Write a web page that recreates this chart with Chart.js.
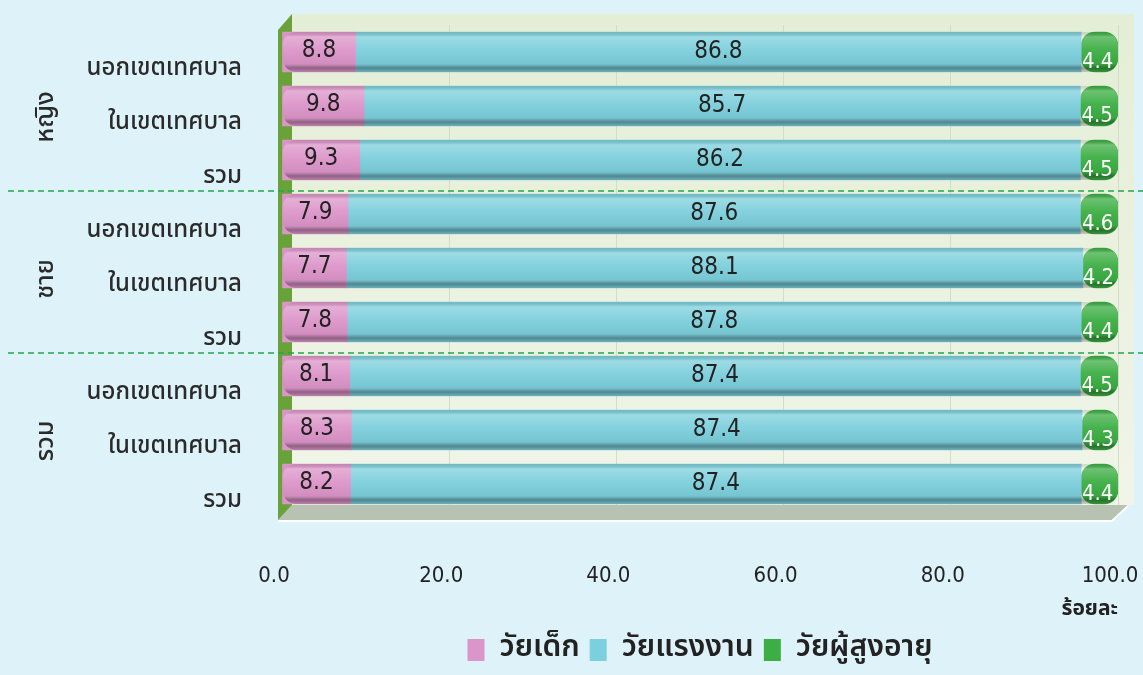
<!DOCTYPE html>
<html>
<head>
<meta charset="utf-8">
<script src="https://cdn.jsdelivr.net/npm/chart.js@4/dist/chart.umd.min.js"></script>
<style>
  html, body { margin: 0; padding: 0; background: #def2fa; }
  canvas { display: block; }
</style>
</head>
<body>
<canvas id="ageChart" width="1143" height="675"></canvas>
<script>
// categories (top to bottom) and groups
const categories = ['นอกเขตเทศบาล', 'ในเขตเทศบาล', 'รวม', 'นอกเขตเทศบาล', 'ในเขตเทศบาล', 'รวม', 'นอกเขตเทศบาล', 'ในเขตเทศบาล', 'รวม'];
const groups = ['หญิง', 'ชาย', 'รวม'];
const seriesNames = ['วัยเด็ก', 'วัยแรงงาน', 'วัยผู้สูงอายุ'];

// percent values
const child = [8.8, 9.8, 9.3, 7.9, 7.7, 7.8, 8.1, 8.3, 8.2];
const working = [86.8, 85.7, 86.2, 87.6, 88.1, 87.8, 87.4, 87.4, 87.4];
const elderly = [4.4, 4.5, 4.5, 4.6, 4.2, 4.4, 4.5, 4.3, 4.4];

const xTicks = [0, 20, 40, 60, 80, 100];

const thaiFont = "'Noto Sans Thai', 'Noto Sans', 'DejaVu Sans', sans-serif";
const numFont = "'DejaVu Sans Condensed', 'Liberation Sans', sans-serif";

// background, back wall, floor and left wall
const decor = {
    id: 'decor',
    beforeDraw(chart) {
        const { ctx, chartArea: a } = chart;
        ctx.save();
        ctx.fillStyle = '#def2fa';
        ctx.fillRect(0, 0, chart.width, chart.height);
        let g = ctx.createLinearGradient(0, 14, 0, 505);
        g.addColorStop(0, '#e4eed6');
        g.addColorStop(1, '#f0f5e8');
        ctx.fillStyle = g;
        ctx.fillRect(a.left + 8, 14, a.right - a.left + 8, 505 - 14);
        ctx.restore();
    },
    beforeDatasetsDraw(chart) {
        const { ctx, chartArea: a } = chart;
        ctx.save();
        // floor
        ctx.fillStyle = '#b8c2b2';
        ctx.beginPath();
        ctx.moveTo(a.left - 4, 520);
        ctx.lineTo(a.right - 6, 520);
        ctx.lineTo(a.right + 10, 505);
        ctx.lineTo(a.left + 10, 505);
        ctx.closePath();
        ctx.fill();
        ctx.strokeStyle = '#ffffff';
        ctx.lineWidth = 2;
        ctx.beginPath();
        ctx.moveTo(a.left - 4, 521);
        ctx.lineTo(a.right - 6, 521);
        ctx.lineTo(a.right + 10, 506);
        ctx.stroke();
        // left wall
        ctx.fillStyle = '#6aa23a';
        ctx.beginPath();
        ctx.moveTo(a.left - 4, 520);
        ctx.lineTo(a.left - 4, 30);
        ctx.lineTo(a.left + 10, 14);
        ctx.lineTo(a.left + 10, 505);
        ctx.closePath();
        ctx.fill();
        ctx.restore();
    },
    afterDatasetsDraw(chart) {
        const { ctx } = chart;
        ctx.save();
        // cylinder shading on each bar
        chart.data.datasets.forEach((ds, di) => {
            const meta = chart.getDatasetMeta(di);
            meta.data.forEach((bar) => {
                const p = bar.getProps(['x', 'y', 'base', 'height'], true);
                const x0 = Math.min(p.x, p.base), x1 = Math.max(p.x, p.base);
                const top = p.y - p.height / 2, h = p.height;
                const g = ctx.createLinearGradient(0, top, 0, top + h);
                g.addColorStop(0, 'rgba(0,0,0,0.10)');
                g.addColorStop(0.12, 'rgba(255,255,255,0.25)');
                g.addColorStop(0.45, 'rgba(255,255,255,0.05)');
                g.addColorStop(0.8, 'rgba(0,0,0,0.05)');
                g.addColorStop(0.9, 'rgba(0,0,0,0.35)');
                g.addColorStop(1, 'rgba(0,0,0,0.15)');
                ctx.fillStyle = g;
                const r = di === 0 ? [14, 0, 0, 14] : di === 2 ? [0, 14, 14, 0] : 0;
                ctx.beginPath();
                ctx.roundRect(x0, top, x1 - x0, h, r);
                ctx.fill();
            });
        });
        // value labels
        ctx.textAlign = 'center';
        ctx.textBaseline = 'middle';
        const colors = ['#222222', '#222222', '#ffffff'];
        const dy = [-1, 0, 10];
        chart.data.datasets.forEach((ds, di) => {
            const meta = chart.getDatasetMeta(di);
            ctx.font = (di === 2 ? '22px ' : '24px ') + numFont;
            meta.data.forEach((bar, i) => {
                const p = bar.getProps(['x', 'y', 'base'], true);
                ctx.fillStyle = colors[di];
                ctx.fillText(ds.data[i].toFixed(1), (p.x + p.base) / 2 - (di === 2 ? 2 : 0), p.y + dy[di]);
            });
        });
        ctx.restore();
    },
    afterDraw(chart) {
        const { ctx } = chart;
        const y = chart.scales.y;
        ctx.save();
        // dashed separators between groups
        ctx.strokeStyle = '#22a84a';
        ctx.lineWidth = 1.5;
        ctx.setLineDash([6, 4]);
        [2, 5].forEach((i) => {
            const yy = (y.getPixelForValue(i) + y.getPixelForValue(i + 1)) / 2 + 4;
            ctx.beginPath();
            ctx.moveTo(8, yy);
            ctx.lineTo(1143, yy);
            ctx.stroke();
        });
        ctx.setLineDash([]);
        // rotated group labels
        ctx.fillStyle = '#2a2a2a';
        ctx.font = '500 25px ' + thaiFont;
        ctx.textAlign = 'center';
        ctx.textBaseline = 'middle';
        groups.forEach((name, gi) => {
            const yy = y.getPixelForValue(gi * 3 + 1) + 11;
            ctx.save();
            ctx.translate(48, yy);
            ctx.rotate(-Math.PI / 2);
            ctx.fillText(name, 0, 0);
            ctx.restore();
        });
        ctx.restore();
    }
};

const ctx = document.getElementById('ageChart').getContext('2d');
const ageChart = new Chart(ctx, {
    type: 'bar',
    data: {
        labels: categories,
        datasets: [
            { label: seriesNames[0], data: child, backgroundColor: '#dc95c9', borderRadius: 14, borderSkipped: false },
            { label: seriesNames[1], data: working, backgroundColor: '#7ccfdc' },
            { label: seriesNames[2], data: elderly, backgroundColor: '#3cae43', borderRadius: 14, borderSkipped: false },
        ],
    },
    options: {
        indexAxis: 'y',
        responsive: false,
        animation: false,
        barThickness: 40,
        layout: { padding: { top: 25, right: 0, left: 0, bottom: 0 } },
        plugins: {
            tooltip: { enabled: false },
            legend: {
                position: 'bottom',
                fullSize: false,
                labels: {
                    boxWidth: 17,
                    boxHeight: 22,
                    padding: 10,
                    color: '#222222',
                    font: { family: thaiFont, size: 30, weight: '600' },
                },
            },
        },
        scales: {
            x: {
                stacked: true,
                min: 0,
                max: 100,
                afterBuildTicks: (s) => { s.ticks = xTicks.map((v) => ({ value: v })); },
                afterFit: (s) => { s.height = 114; s.paddingRight = 25; s.paddingLeft = 0; },
                grid: { drawTicks: false, color: '#d3dbc9', drawOnChartArea: true },
                border: { display: false },
                ticks: {
                    padding: 52,
                    labelOffset: -8,
                    color: '#222222',
                    font: { family: numFont, size: 22 },
                    callback: (v) => Number(v).toFixed(1),
                },
                title: {
                    display: true,
                    text: 'ร้อยละ',
                    align: 'end',
                    color: '#222222',
                    font: { family: thaiFont, size: 21, weight: 'bold' },
                    padding: { top: 0, bottom: 2 },
                },
            },
            y: {
                stacked: true,
                afterFit: (s) => { s.width = 282; s.paddingTop = 0; s.paddingBottom = 0; },
                grid: { display: false },
                border: { display: false },
                ticks: {
                    padding: 32,
                    labelOffset: 18,
                    color: '#2a2a2a',
                    font: { family: thaiFont, size: 24, weight: '500' },
                },
            },
        },
    },
    plugins: [decor],
});
</script>
</body>
</html>
